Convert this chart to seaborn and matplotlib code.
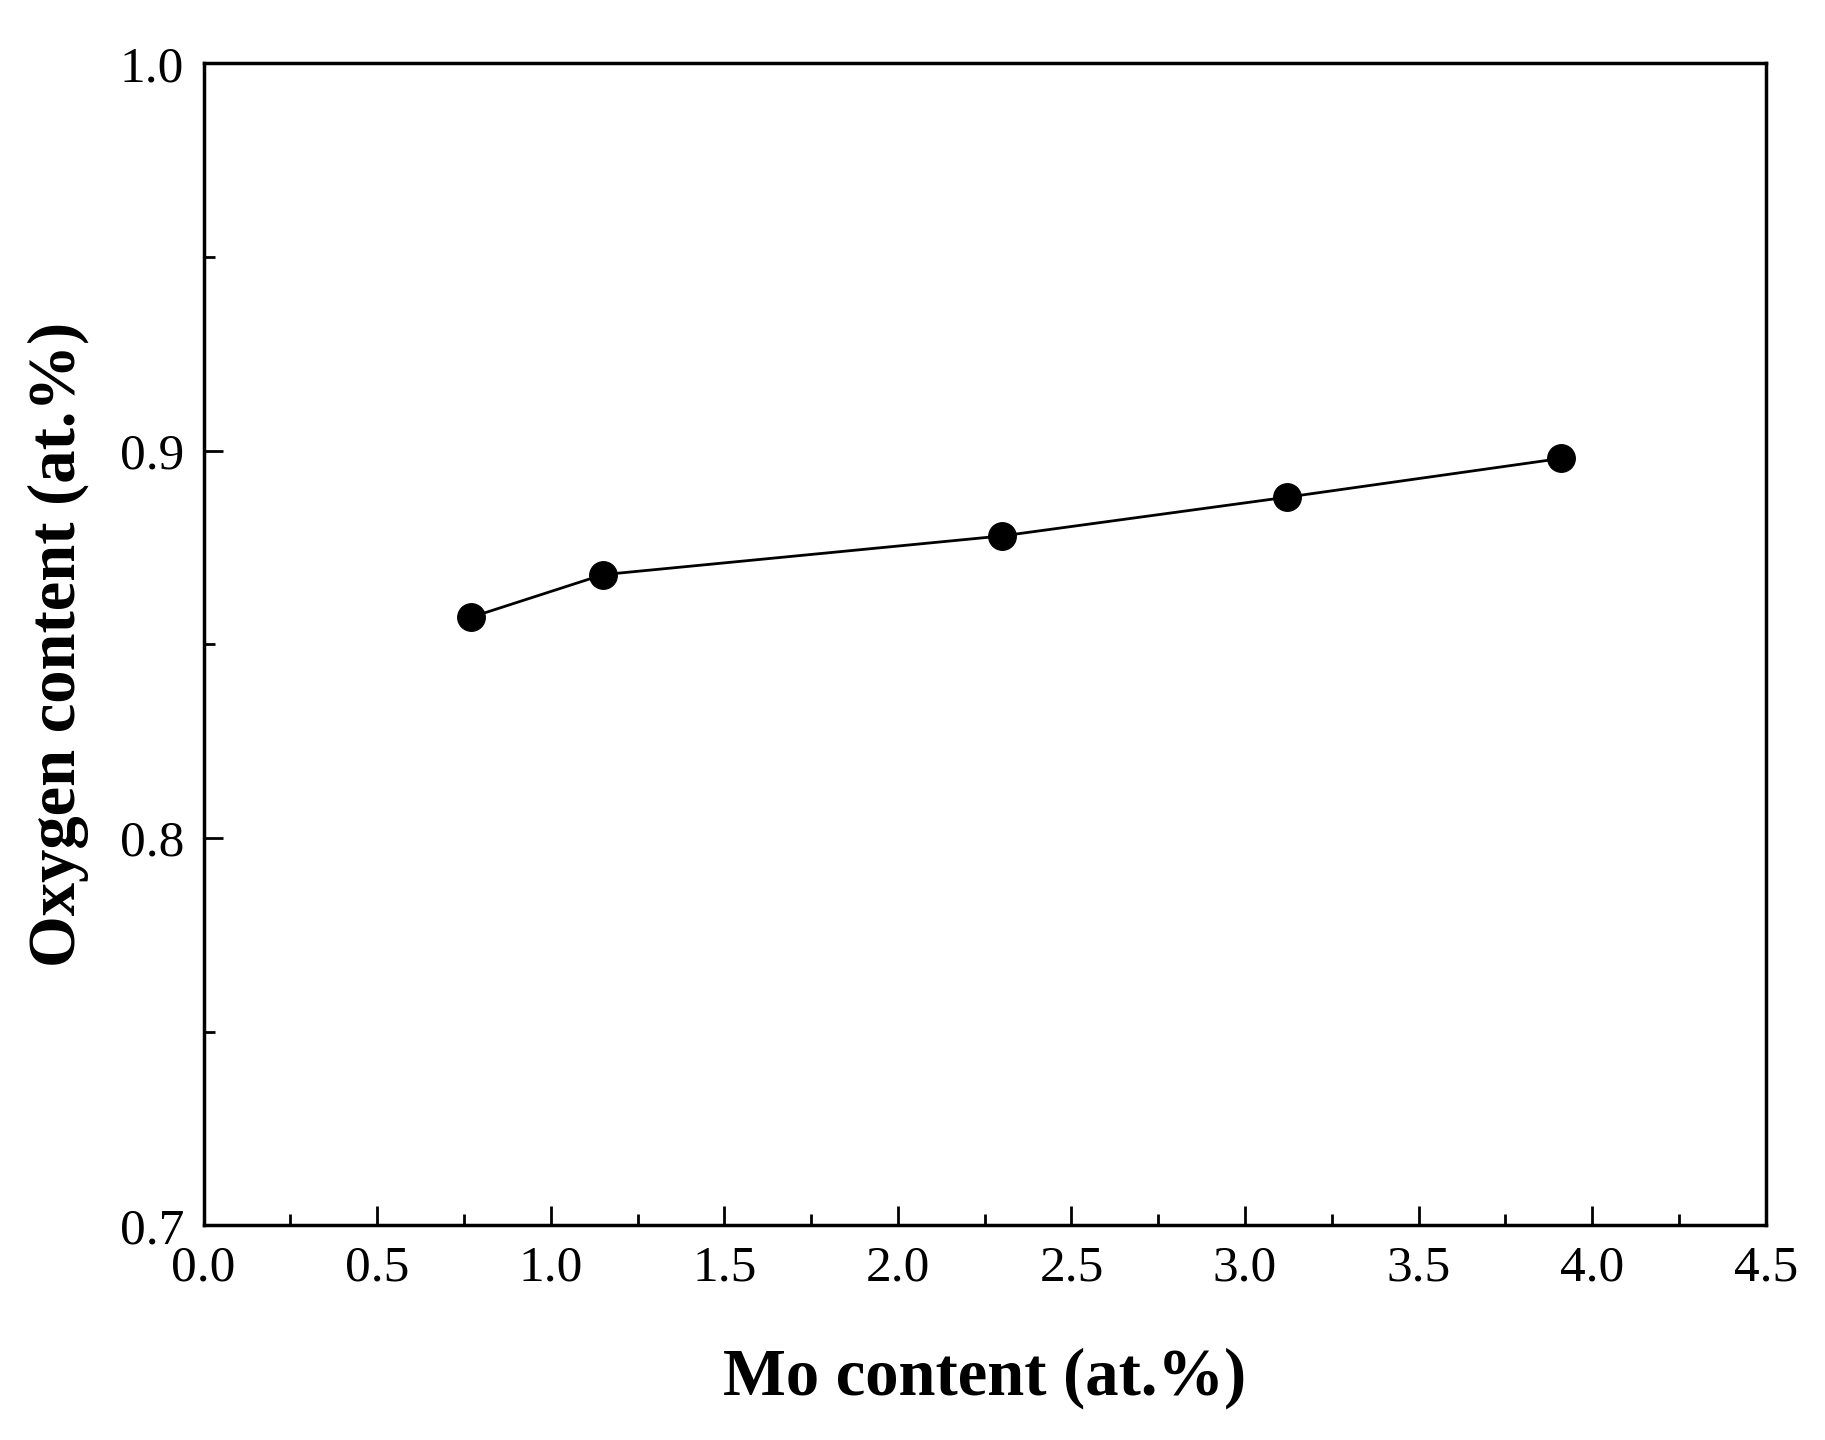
import matplotlib
matplotlib.use('Agg')
import matplotlib.pyplot as plt
import seaborn as sns
import pandas as pd
from matplotlib.ticker import MultipleLocator

mo_content = [0.77, 1.15, 2.30, 3.12, 3.91]
oxygen_content = [0.857, 0.868, 0.878, 0.888, 0.898]

sns.set_style('ticks')
plt.rcParams['font.family'] = ['Liberation Serif', 'DejaVu Serif']
plt.rcParams['text.color'] = 'black'
plt.rcParams['axes.labelcolor'] = 'black'
plt.rcParams['xtick.color'] = 'black'
plt.rcParams['ytick.color'] = 'black'
plt.rcParams['axes.edgecolor'] = 'black'

df = pd.DataFrame({'mo': mo_content, 'oxygen': oxygen_content})

fig = plt.figure(figsize=(18.25, 14.4), dpi=100)
ax = fig.add_axes([0.1116, 0.149, 0.8559, 0.807])
sns.lineplot(data=df, x='mo', y='oxygen', ax=ax, color='black', linewidth=2,
             marker='o', markersize=20, markeredgecolor='black', markerfacecolor='black')

ax.set_xlim(0, 4.5)
ax.set_ylim(0.7, 1.0)
ax.xaxis.set_major_locator(MultipleLocator(0.5))
ax.xaxis.set_minor_locator(MultipleLocator(0.25))
ax.yaxis.set_major_locator(MultipleLocator(0.1))
ax.yaxis.set_minor_locator(MultipleLocator(0.05))
ax.tick_params(which='both', direction='in', width=2, labelsize=37, pad=14)
ax.tick_params(which='major', length=14)
ax.tick_params(which='minor', length=8)
for s in ax.spines.values():
    s.set_linewidth(2.5)
ax.set_xlabel('Mo content (at.%)', fontsize=48, fontweight='bold', labelpad=40)
ax.set_ylabel('Oxygen content (at.%)', fontsize=48, fontweight='bold', labelpad=22)

fig.savefig('out.png', dpi=100)
